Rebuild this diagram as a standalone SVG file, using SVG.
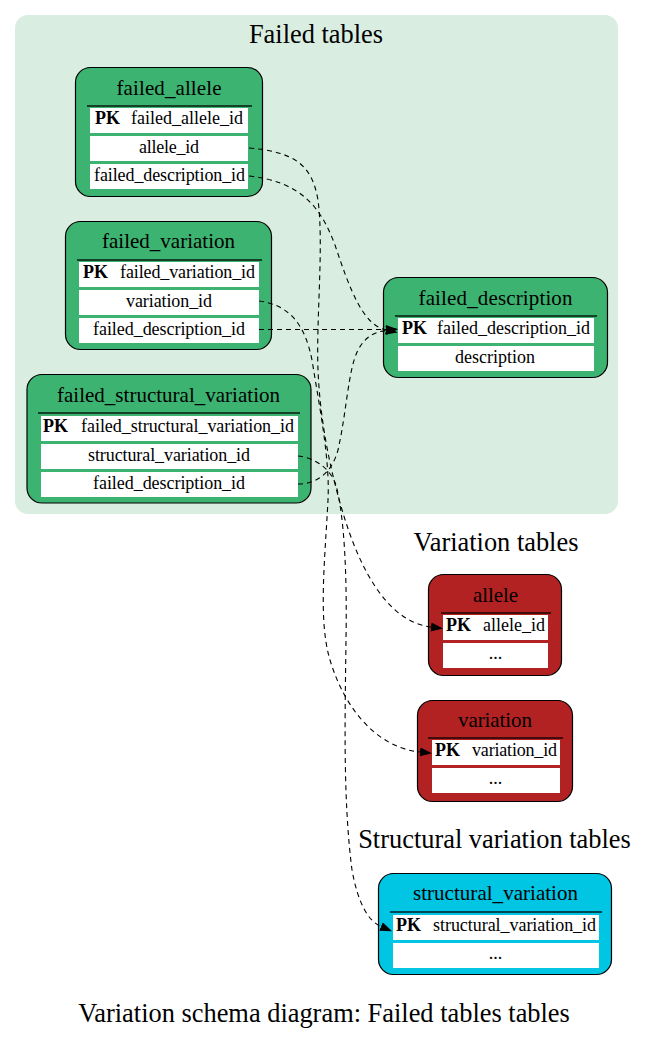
<svg xmlns="http://www.w3.org/2000/svg" width="648" height="1041" viewBox="0 0 648 1041">
<style>
text{font-family:"Liberation Serif","Times New Roman",serif;fill:#000}
.lbl{font-size:26.4px;text-anchor:middle}
.title{font-size:21px;text-anchor:middle}
.row{font-size:18px;text-anchor:middle}
.pk{font-size:18px;font-weight:bold}
.fld{font-size:18px}
.cell{fill:#fff}
.sep{stroke:#000;stroke-opacity:0.85;stroke-width:1.6}
.green{fill:#3cb371;stroke:#000;stroke-width:1.2}
.red{fill:#b22222;stroke:#000;stroke-width:1.2}
.cyan{fill:#00c5e3;stroke:#000;stroke-width:1.2}
.edge{fill:none;stroke:#000;stroke-width:1.1;stroke-dasharray:5,4}
</style>
<defs>
<marker id="arr" markerUnits="userSpaceOnUse" markerWidth="13" markerHeight="10" refX="0" refY="4.5" orient="auto">
<path d="M0,0 L12,4.5 L0,9 z" fill="#000"/>
</marker>
</defs>
<rect width="648" height="1041" fill="#fff"/>
<g id="cluster_failed">
<rect x="15" y="15" width="603" height="499" rx="13" fill="#d9eee1"/>
<text class="lbl" x="316" y="43">Failed tables</text>
</g>
<text class="lbl" x="496" y="551">Variation tables</text>
<text class="lbl" x="494.5" y="848">Structural variation tables</text>
<text class="lbl" x="324" y="1022">Variation schema diagram: Failed tables tables</text>

<g id="failed_allele">
<rect class="green" x="75.5" y="67.5" width="187" height="129" rx="15"/>
<text class="title" x="169" y="95" textLength="105" lengthAdjust="spacing">failed_allele</text>
<line class="sep" x1="87" y1="106" x2="252" y2="106"/>
<rect class="cell" x="90" y="108" width="158" height="25"/>
<rect class="cell" x="90" y="136" width="158" height="25"/>
<rect class="cell" x="90" y="164" width="158" height="25"/>
<text class="pk" x="95" y="124">PK</text>
<text class="fld" x="131" y="124" textLength="112" lengthAdjust="spacing">failed_allele_id</text>
<text class="row" x="169" y="153" textLength="60" lengthAdjust="spacing">allele_id</text>
<text class="row" x="169.5" y="181" textLength="151" lengthAdjust="spacing">failed_description_id</text>
</g>

<g id="failed_variation">
<rect class="green" x="65.5" y="221.5" width="206" height="128" rx="15"/>
<text class="title" x="168.5" y="248" textLength="133" lengthAdjust="spacing">failed_variation</text>
<line class="sep" x1="77" y1="260" x2="262" y2="260"/>
<rect class="cell" x="79" y="262" width="180" height="25"/>
<rect class="cell" x="79" y="290" width="180" height="25"/>
<rect class="cell" x="79" y="318" width="180" height="25"/>
<text class="pk" x="83" y="278">PK</text>
<text class="fld" x="120" y="278" textLength="135" lengthAdjust="spacing">failed_variation_id</text>
<text class="row" x="169" y="307" textLength="86" lengthAdjust="spacing">variation_id</text>
<text class="row" x="169" y="335" textLength="152" lengthAdjust="spacing">failed_description_id</text>
</g>

<g id="failed_structural_variation">
<rect class="green" x="27" y="374.5" width="284" height="128.5" rx="15"/>
<text class="title" x="168.5" y="402" textLength="223" lengthAdjust="spacing">failed_structural_variation</text>
<line class="sep" x1="38" y1="413" x2="300" y2="413"/>
<rect class="cell" x="41" y="416" width="257" height="25"/>
<rect class="cell" x="41" y="444" width="257" height="25"/>
<rect class="cell" x="41" y="472" width="257" height="25"/>
<text class="pk" x="43" y="432">PK</text>
<text class="fld" x="81" y="432" textLength="213" lengthAdjust="spacing">failed_structural_variation_id</text>
<text class="row" x="169" y="461" textLength="162" lengthAdjust="spacing">structural_variation_id</text>
<text class="row" x="169" y="489" textLength="152" lengthAdjust="spacing">failed_description_id</text>
</g>

<g id="failed_description">
<rect class="green" x="383.5" y="277.5" width="224" height="100" rx="15"/>
<text class="title" x="495.5" y="305" textLength="154" lengthAdjust="spacing">failed_description</text>
<line class="sep" x1="395" y1="316" x2="597" y2="316"/>
<rect class="cell" x="398" y="318" width="196" height="25"/>
<rect class="cell" x="398" y="346" width="196" height="25"/>
<text class="pk" x="402" y="334">PK</text>
<text class="fld" x="437" y="334" textLength="153" lengthAdjust="spacing">failed_description_id</text>
<text class="row" x="495" y="363" textLength="80" lengthAdjust="spacing">description</text>
</g>

<g id="allele">
<rect class="red" x="428.5" y="574.5" width="133" height="101" rx="15"/>
<text class="title" x="495.5" y="602" textLength="45" lengthAdjust="spacing">allele</text>
<line class="sep" x1="441" y1="613" x2="551" y2="613"/>
<rect class="cell" x="443" y="615" width="105" height="25"/>
<rect class="cell" x="443" y="643" width="105" height="25"/>
<text class="pk" x="446" y="631">PK</text>
<text class="fld" x="483" y="631" textLength="62" lengthAdjust="spacing">allele_id</text>
<text class="row" x="495.5" y="659">...</text>
</g>

<g id="variation">
<rect class="red" x="417.5" y="700.5" width="155" height="101" rx="15"/>
<text class="title" x="495" y="727" textLength="74" lengthAdjust="spacing">variation</text>
<line class="sep" x1="428" y1="738" x2="563" y2="738"/>
<rect class="cell" x="432" y="740" width="128" height="25"/>
<rect class="cell" x="432" y="768" width="128" height="25"/>
<text class="pk" x="435" y="756">PK</text>
<text class="fld" x="472" y="756" textLength="85" lengthAdjust="spacing">variation_id</text>
<text class="row" x="495.5" y="784">...</text>
</g>

<g id="structural_variation">
<rect class="cyan" x="378.5" y="873.5" width="233" height="101" rx="15"/>
<text class="title" x="495.5" y="900" textLength="165" lengthAdjust="spacing">structural_variation</text>
<line class="sep" x1="390" y1="912" x2="602" y2="912"/>
<rect class="cell" x="393" y="915" width="206" height="25"/>
<rect class="cell" x="393" y="943" width="206" height="25"/>
<text class="pk" x="396" y="931">PK</text>
<text class="fld" x="433" y="931" textLength="163" lengthAdjust="spacing">structural_variation_id</text>
<text class="row" x="495.5" y="959">...</text>
</g>

<g id="connectors">
<path class="edge" marker-end="url(#arr)" d="M249,148 C295,152 312,165 318,200 C324,245 316,320 318,370 C320,420 330,470 343,513 C360,570 388,622 431,627"/>
<path class="edge" marker-end="url(#arr)" d="M259,301 C290,305 305,325 312,360 C320,410 330,460 328,500 C325,560 318,620 330,660 C345,710 378,748 420,752"/>
<path class="edge" marker-end="url(#arr)" d="M298,456 C315,458 330,468 336,485 C345,520 347,580 346,640 C345,720 343,800 352,870 C358,903 368,921 381,926.5"/>
<path class="edge" marker-end="url(#arr)" d="M249,176 C300,182 320,205 335,245 C350,290 363,325 386,330"/>
<path class="edge" marker-end="url(#arr)" d="M259,329.5 L386,329.5"/>
<path class="edge" marker-end="url(#arr)" d="M298,484 C318,484 332,472 338,450 C347,410 348,370 358,350 C365,337 374,332 386,330.5"/>
</g>
</svg>
